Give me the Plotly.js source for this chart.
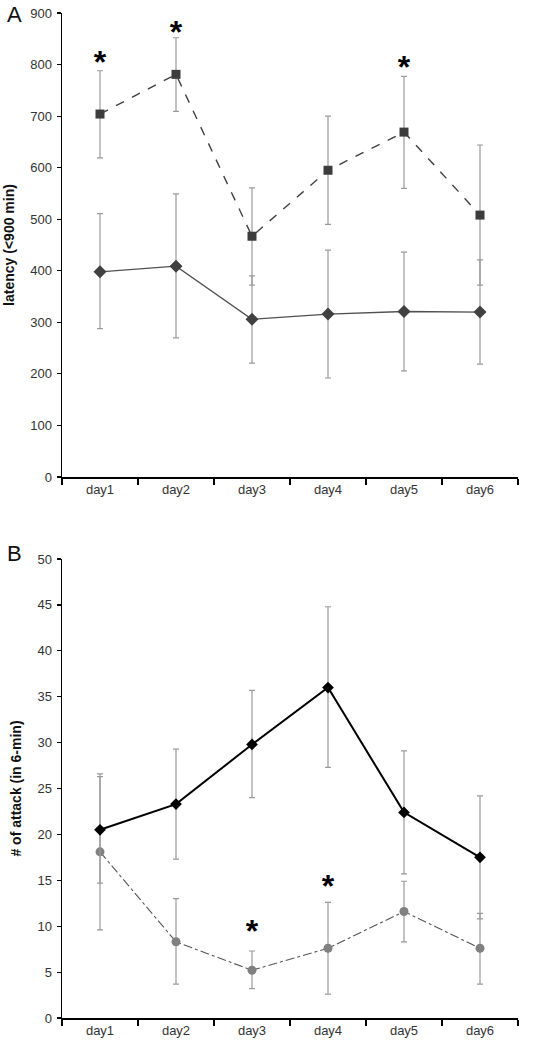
<!DOCTYPE html>
<html><head><meta charset="utf-8">
<script src="https://cdn.plot.ly/plotly-3.0.1.min.js"></script>
<style>body{margin:0;background:#fff}#chart{width:555px;height:1050px}</style>
</head><body><div id="chart"></div>
<script>
const days = ["day1","day2","day3","day4","day5","day6"];
// Panel A: latency
const latSquare = [704, 781, 467, 595, 669, 508];
const latSquareUp = [84, 71, 94, 105, 108, 136];
const latSquareDn = [85, 72, 95, 105, 109, 136];
const latDiamond = [398, 409, 306, 316, 321, 320];
const latDiamondUp = [113, 140, 84, 124, 115, 101];
const latDiamondDn = [110, 139, 85, 124, 115, 101];
const starAx = ["day1","day2","day5"];
const starAy = [800, 858, 790];
// Panel B: attacks
const attBlack = [20.5, 23.3, 29.8, 36.0, 22.4, 17.5];
const attBlackUp = [6.1, 6.0, 5.9, 8.8, 6.7, 6.7];
const attBlackDn = [5.8, 6.0, 5.8, 8.7, 6.7, 6.7];
const attGray = [18.1, 8.3, 5.2, 7.6, 11.6, 7.6];
const attGrayUp = [8.2, 4.7, 2.1, 5.0, 3.3, 3.8];
const attGrayDn = [8.5, 4.6, 2.0, 5.0, 3.3, 3.9];
const starBx = ["day3","day4"];
const starBy = [9.2, 14.0];

const errStyle = (up, dn) => ({type:"data", symmetric:false, array:up, arrayminus:dn, color:"#9a9a9a", thickness:1.2, width:3});
const starFont = {family:"Liberation Sans, Arial", size:32, color:"#000", weight:"bold"};

const traces = [
  {x:days, y:latDiamond, xaxis:"x", yaxis:"y", mode:"lines+markers", type:"scatter",
   line:{color:"#505050", width:1.3}, marker:{symbol:"diamond", size:10, color:"#404040"},
   error_y:errStyle(latDiamondUp, latDiamondDn)},
  {x:days, y:latSquare, xaxis:"x", yaxis:"y", mode:"lines+markers", type:"scatter",
   line:{color:"#404040", width:1.4, dash:"dash"}, marker:{symbol:"square", size:9, color:"#3c3c3c"},
   error_y:errStyle(latSquareUp, latSquareDn)},
  {x:starAx, y:starAy, xaxis:"x", yaxis:"y", mode:"text", type:"scatter", text:starAx.map(()=>"*"),
   textfont:starFont, textposition:"middle center"},
  {x:days, y:attGray, xaxis:"x2", yaxis:"y2", mode:"lines+markers", type:"scatter",
   line:{color:"#555", width:1.1, dash:"dashdot"}, marker:{symbol:"circle", size:9, color:"#808080"},
   error_y:errStyle(attGrayUp, attGrayDn)},
  {x:days, y:attBlack, xaxis:"x2", yaxis:"y2", mode:"lines+markers", type:"scatter",
   line:{color:"#000", width:2}, marker:{symbol:"diamond", size:9, color:"#000"},
   error_y:errStyle(attBlackUp, attBlackDn)},
  {x:starBx, y:starBy, xaxis:"x2", yaxis:"y2", mode:"text", type:"scatter", text:starBx.map(()=>"*"),
   textfont:starFont, textposition:"middle center"}
];

const tickF = {family:"Liberation Sans, Arial", size:13, color:"#333"};
const xax = (anchor) => ({anchor:anchor, type:"category", categoryarray:days, range:[-0.5,5.5], tickson:"boundaries",
  ticks:"outside", ticklen:6, tickwidth:1.5, tickcolor:"#000", showline:true, linecolor:"#000", linewidth:1.5,
  showgrid:false, zeroline:false, tickfont:tickF, fixedrange:true});
const yax = (anchor, dom, max, dt, title) => ({anchor:anchor, domain:dom, range:[0,max], dtick:dt, tick0:0,
  ticks:"outside", ticklen:4, tickwidth:1.2, tickcolor:"#000", showline:true, linecolor:"#000", linewidth:1.5,
  showgrid:false, zeroline:false, tickfont:tickF, ticklabelstandoff:2,
  title:{text:title, font:{family:"Liberation Sans, Arial", size:14, color:"#111", weight:"bold"}, standoff:12}});

const layout = {
  width:555, height:1050, showlegend:false, paper_bgcolor:"#fff", plot_bgcolor:"#fff",
  margin:{l:62, r:37, t:13, b:32},
  xaxis: xax("y"),
  yaxis: yax("x", [0.5383, 1], 900, 100, "latency (<900 min)"),
  xaxis2: xax("y2"),
  yaxis2: yax("x2", [0, 0.4567], 50, 5, "# of attack (in 6-min)"),
  annotations:[
    {text:"A", xref:"paper", yref:"paper", x:-0.105, y:1.0, xanchor:"center", yanchor:"middle", showarrow:false,
     font:{family:"Liberation Sans, Arial", size:22, color:"#111"}, yshift:-1},
    {text:"B", xref:"paper", yref:"paper", x:-0.105, y:0.4567, xanchor:"center", yanchor:"middle", showarrow:false,
     font:{family:"Liberation Sans, Arial", size:22, color:"#111"}, yshift:6}
  ]
};
Plotly.newPlot("chart", traces, layout, {displayModeBar:false, staticPlot:true});
</script></body></html>
